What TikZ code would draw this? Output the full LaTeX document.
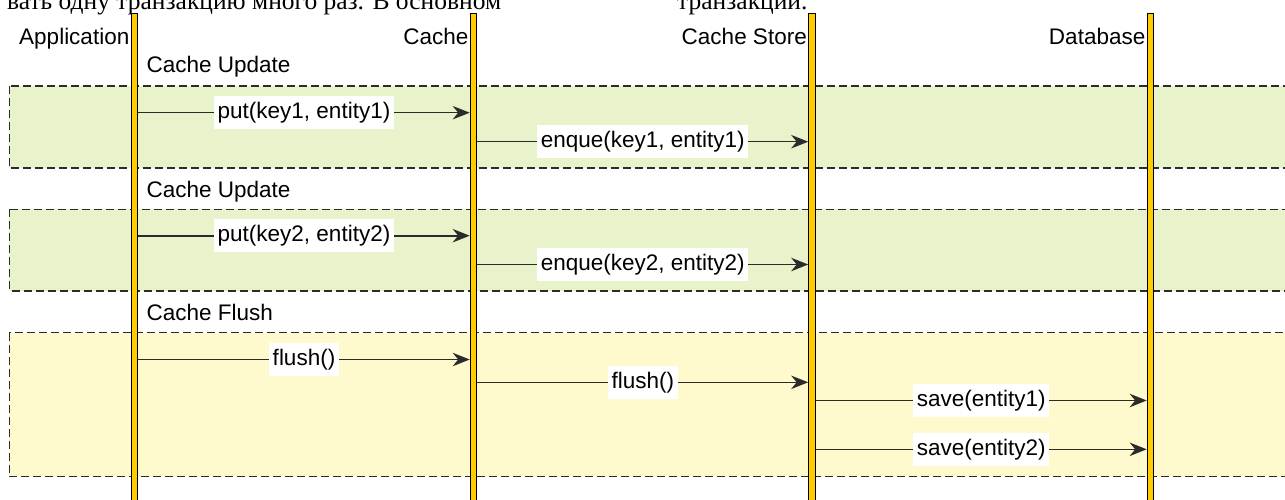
\documentclass[tikz,border=0pt]{standalone}
\usepackage{fontspec}
\setmainfont{Liberation Sans}
\newfontfamily\ruserif{Liberation Serif}
\usepackage{tikz}
\usetikzlibrary{positioning,arrows.meta}

\definecolor{lifeyellow}{HTML}{FFCC00}
\definecolor{updgreen}{HTML}{E8F3CB}
\definecolor{flushyellow}{HTML}{FFFACD}
\definecolor{edgegray}{HTML}{2B2B2B}

\begin{document}
\begin{tikzpicture}[x=1pt, y=-1pt,
    >={Stealth[length=17pt, width=13.5pt, inset=5.5pt]},
    every node/.style={font=\fontsize{22.5}{27}\selectfont},
    lifeline/.style={draw=black, line width=1.1pt, fill=lifeyellow, minimum width=6.6pt,
      minimum height=495pt, inner sep=0pt, anchor=north},
    head/.style={anchor=base east, inner sep=0pt},
    group/.style={draw=edgegray, line width=1.5pt, dash pattern=on 8pt off 4pt},
    grouplabel/.style={anchor=base west, inner sep=0pt},
    msg/.style={->, color=edgegray, line width=1.6pt},
    msglabel/.style={fill=white, text=black, inner xsep=3.5pt, inner ysep=3.5pt, text height=19pt, text depth=7pt},
    cuttext/.style={anchor=base west, inner sep=0pt, font=\ruserif\fontsize{25.5}{30}\selectfont}]

  \useasboundingbox (0,0) rectangle (1285,500);
  \clip (0,0) rectangle (1285,500);

  % cut-off text line above the diagram
  \node[cuttext] (intro) at (7,9.5) {вать одну транзакцию много раз. В основном};
  \node[cuttext] (outro) at (677,9.5) {транзакции.};

  % groups
  \foreach \ya/\yb/\col in {86/168/updgreen, 209.3/291/updgreen, 332.5/476.5/flushyellow}
    \draw[group, fill=\col] (9.3,\ya) rectangle (1300,\yb);

  \node[grouplabel] (upd1) at (146.5,72.5) {Cache Update};
  \node[grouplabel] (upd2) at (146.5,197.5) {Cache Update};
  \node[grouplabel] (fl) at (146.5,320) {Cache Flush};

  % lifelines
  \node[lifeline] (app) at (134.5,12.7) {};
  \node[lifeline] (cache) at (473.5,12.7) {};
  \node[lifeline] (store) at (812,12.7) {};
  \node[lifeline] (db) at (1150.5,12.7) {};

  \node[head] (apphead) at (129.5,45) {Application};
  \node[head] (cachehead) at (468.5,45) {Cache};
  \node[head] (storehead) at (807,45) {Cache Store};
  \node[head] (dbhead) at (1145.5,45) {Database};

  % messages
  \path[msg]
    (app.east |- 0,112.7) edge node[msglabel] {put(key1, entity1)} (cache.west |- 0,112.7)
    (cache.east |- 0,141.7) edge node[msglabel] {enque(key1, entity1)} (store.west |- 0,141.7)
    (app.east |- 0,235.7) edge node[msglabel] {put(key2, entity2)} (cache.west |- 0,235.7)
    (cache.east |- 0,264.5) edge node[msglabel] {enque(key2, entity2)} (store.west |- 0,264.5)
    (app.east |- 0,359.5) edge node[msglabel] {flush()} (cache.west |- 0,359.5)
    (cache.east |- 0,382.3) edge node[msglabel] {flush()} (store.west |- 0,382.3)
    (store.east |- 0,400.5) edge node[msglabel] {save(entity1)} (db.west |- 0,400.5)
    (store.east |- 0,449.3) edge node[msglabel] {save(entity2)} (db.west |- 0,449.3);
\end{tikzpicture}
\end{document}
